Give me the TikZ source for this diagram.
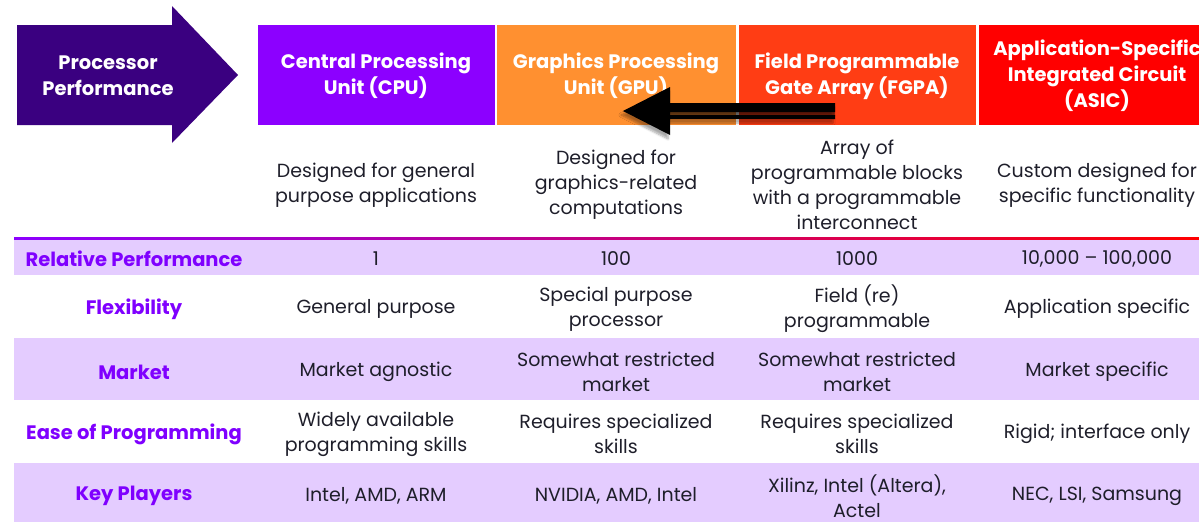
\documentclass[tikz,border=0pt]{standalone}
\usepackage{fontspec}
\setmainfont{Poppins}
\usetikzlibrary{shadows.blur}
\definecolor{indigo}{HTML}{3A0080}
\definecolor{cpucol}{HTML}{8C00FF}
\definecolor{gpucol}{HTML}{FF9030}
\definecolor{fpgacol}{HTML}{FF3D14}
\definecolor{asiccol}{HTML}{FF0000}
\definecolor{lavender}{HTML}{E4CCFF}
\definecolor{labelcol}{HTML}{7F00FF}
\definecolor{bodytext}{HTML}{1E1E2A}
\tikzset{
  headbox/.style={minimum width=#1, minimum height=100pt, inner sep=0pt, anchor=north west},
  headtext/.style={text=white, align=center, font=\fontsize{19.5}{26}\selectfont\bfseries},
  celltext/.style={text=bodytext, align=center, font=\fontsize{19}{25}\selectfont},
  rowlabel/.style={text=labelcol, align=center, font=\fontsize{19.5}{25}\selectfont\bfseries},
  band/.style={fill=lavender, draw=none},
}
\begin{document}
\begin{tikzpicture}[x=1pt,y=-1pt]
\useasboundingbox (0,0) rectangle (1199,522);
\clip (0,0) rectangle (1199,522);

% lavender row bands
\fill[band] (14,239) rectangle (1199,275);
\fill[band] (14,338) rectangle (1199,400);
\fill[band] (14,463) rectangle (1199,522);

% gradient rule under the descriptions
\shade[left color=cpucol, middle color=gpucol, right color=asiccol] (14,237) rectangle (1199,239.5);

% big indigo arrow
\fill[indigo] (17,25) -- (172,25) -- (172,6) -- (238,75) -- (172,143) -- (172,125) -- (17,125) -- cycle;
\node[headtext] (perf) at (108,76) {Processor\\Performance};

% column headers
\node[headbox=237pt, fill=cpucol]  (cpu)  at (258,25) {};
\node[headbox=239pt, fill=gpucol]  (gpu)  at (497,25) {};
\node[headbox=237pt, fill=fpgacol] (fpga) at (739,25) {};
\node[headbox=240pt, fill=asiccol] (asic) at (979,25) {};

\node[headtext] (cpuT)  at (376,76) {Central Processing\\Unit (CPU)};
\node[headtext] (gpuT)  at (616,76) {Graphics Processing\\Unit (GPU)};
\node[headtext] (fpgaT) at (857,76) {Field Programmable\\Gate Array (FGPA)};
\node[headtext] (asicT) at (1097,76) {Application-Specific\\Integrated Circuit\\(ASIC)};

% descriptions
\node[celltext] (cpuD)  at (376,185) {Designed for general\\purpose applications};
\node[celltext] (gpuD)  at (616,185) {Designed for\\graphics-related\\computations};
\node[celltext] (fpgaD) at (857,185) {Array of\\programmable blocks\\with a programmable\\interconnect};
\node[celltext] (asicD) at (1097,185) {Custom designed for\\specific functionality};

% row labels
\node[rowlabel] (lPerf) at (134,259) {Relative Performance};
\node[rowlabel] (lFlex) at (134,309) {Flexibility};
\node[rowlabel] (lMkt)  at (134,372) {Market};
\node[rowlabel] (lEase) at (134,434) {Ease of Programming};
\node[rowlabel] (lKey)  at (134,496) {Key Players};

% relative performance
\node[celltext] (p1) at (376,259) {1};
\node[celltext] (p2) at (616,259) {100};
\node[celltext] (p3) at (857,259) {1000};
\node[celltext] (p4) at (1097,259) {10,000 – 100,000};

% flexibility
\node[celltext] (f1) at (376,309) {General purpose};
\node[celltext] (f2) at (616,309) {Special purpose\\processor};
\node[celltext] (f3) at (857,309) {Field (re)\\programmable};
\node[celltext] (f4) at (1097,309) {Application specific};

% market
\node[celltext] (m1) at (376,372) {Market agnostic};
\node[celltext] (m2) at (616,372) {Somewhat restricted\\market};
\node[celltext] (m3) at (857,372) {Somewhat restricted\\market};
\node[celltext] (m4) at (1097,372) {Market specific};

% ease of programming
\node[celltext] (e1) at (376,434) {Widely available\\programming skills};
\node[celltext] (e2) at (616,434) {Requires specialized\\skills};
\node[celltext] (e3) at (857,434) {Requires specialized\\skills};
\node[celltext] (e4) at (1097,434) {Rigid; interface only};

% key players
\node[celltext] (k1) at (376,496) {Intel, AMD, ARM};
\node[celltext] (k2) at (616,496) {NVIDIA, AMD, Intel};
\node[celltext] (k3) at (857,496) {Xilinz, Intel (Altera),\\Actel};
\node[celltext] (k4) at (1097,496) {NEC, LSI, Samsung};

% black double-shafted arrow pointing from FPGA back to GPU
\coordinate (tail) at (835,111);
\coordinate (tip)  at (623,111);
\fill[black, blur shadow={shadow xshift=-2pt, shadow yshift=-4pt, shadow opacity=35, shadow blur steps=6}]
  (tip) -- (670,87) -- (670,103) -- (tail |- 0,103) -- (tail |- 0,112) -- (670,112)
  -- (670,115) -- (tail |- 0,115) -- (tail |- 0,119) -- (670,119) -- (670,135) -- cycle;
\fill[black, opacity=0.45] (670,112) rectangle (tail |- 0,115);
\end{tikzpicture}
\end{document}
